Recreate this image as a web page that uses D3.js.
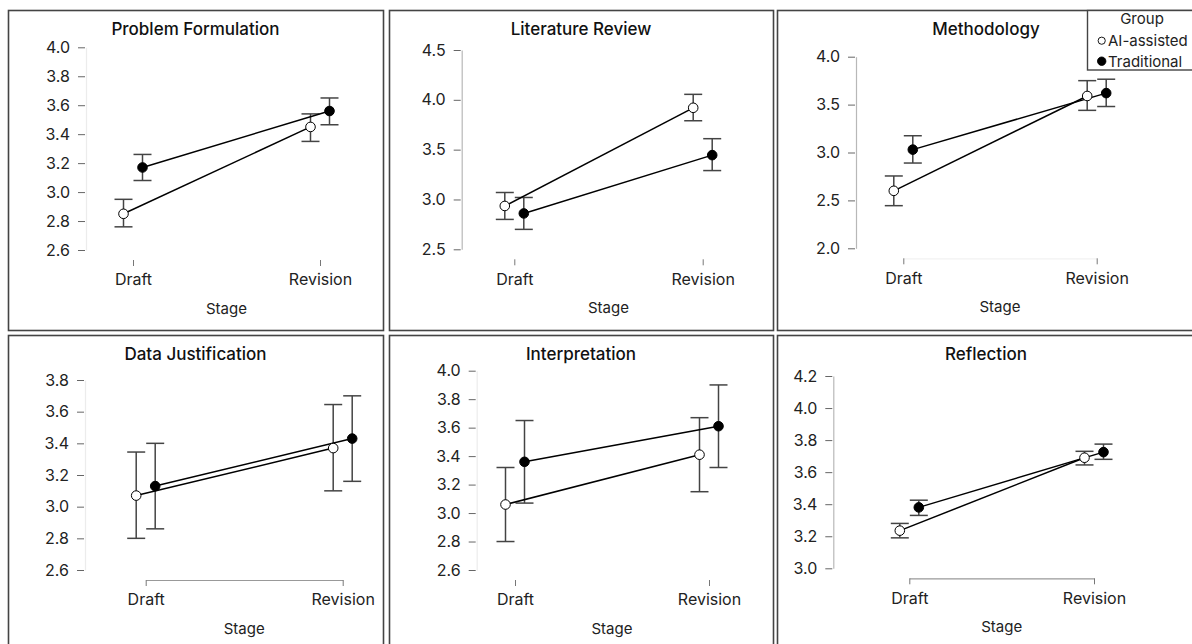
<!DOCTYPE html>
<html>
<head>
<meta charset="utf-8">
<script src="https://cdn.jsdelivr.net/npm/d3@7"></script>
<style>
  body { margin: 0; background: #fff; }
  svg { display: block; font-family: Inter, "Noto Sans", sans-serif; }
</style>
</head>
<body>
<div id="chart"></div>
<script>
// data
var stages = ["Draft", "Revision"];
var groups = ["AI-assisted", "Traditional"];
var titles = ["Problem Formulation", "Literature Review", "Methodology",
              "Data Justification", "Interpretation", "Reflection"];

var aiMean  = [[2.85, 3.45], [2.935, 3.92], [2.60, 3.59], [3.07, 3.37], [3.06, 3.41], [3.235, 3.69]];
var aiLow   = [[2.76, 3.35], [2.80, 3.79],  [2.445, 3.44], [2.80, 3.10], [2.80, 3.15], [3.19, 3.645]];
var aiHigh  = [[2.95, 3.54], [3.07, 4.055], [2.755, 3.75], [3.345, 3.645], [3.32, 3.67], [3.28, 3.73]];

var trMean  = [[3.17, 3.56], [2.86, 3.445], [3.03, 3.62], [3.13, 3.43], [3.36, 3.61], [3.38, 3.725]];
var trLow   = [[3.08, 3.465], [2.70, 3.29], [2.89, 3.48], [2.86, 3.16], [3.07, 3.32], [3.33, 3.68]];
var trHigh  = [[3.26, 3.65], [3.02, 3.61], [3.175, 3.765], [3.40, 3.70], [3.65, 3.90], [3.425, 3.775]];

var yTicks = [
  [2.6, 2.8, 3.0, 3.2, 3.4, 3.6, 3.8, 4.0],
  [2.5, 3.0, 3.5, 4.0, 4.5],
  [2.0, 2.5, 3.0, 3.5, 4.0],
  [2.6, 2.8, 3.0, 3.2, 3.4, 3.6, 3.8],
  [2.6, 2.8, 3.0, 3.2, 3.4, 3.6, 3.8, 4.0],
  [3.0, 3.2, 3.4, 3.6, 3.8, 4.0, 4.2]
];

// layout of each panel (pixels)
var layout = [
  {x: 8,   y: 10,  w: 375, ax: 86,    top: 47.3,  bot: 250,   x0: 133,   x1: 320,   yLine: "#ececec", xLine: "none"},
  {x: 389, y: 10,  w: 384, ax: 461.7, top: 50,    bot: 249.3, x0: 514.3, x1: 702.7, yLine: "#b8b8b8", xLine: "none"},
  {x: 777, y: 10,  w: 418, ax: 856,   top: 56.7,  bot: 248.3, x0: 903.3, x1: 1096.7, yLine: "#b8b8b8", xLine: "#f2f2f2"},
  {x: 8,   y: 335, w: 375, ax: 85,    top: 380,   bot: 570,   x0: 145.7, x1: 342.7, yLine: "#ececec", xLine: "#999"},
  {x: 389, y: 335, w: 384, ax: 476.7, top: 370.7, bot: 570,   x0: 515,   x1: 709,   yLine: "#ececec", xLine: "none"},
  {x: 777, y: 335, w: 418, ax: 833.3, top: 376,   bot: 568.3, x0: 909.3, x1: 1094,  yLine: "#b8b8b8", xLine: "#999"}
];

var width = 1192, height = 644;

var svg = d3.select("#chart")
  .append("svg")
  .attr("width", width)
  .attr("height", height);

var dodge = d3.scalePoint().domain(groups).range([-9.5, 9.5]);

titles.forEach(function(title, i) {
  var L = layout[i];
  var g = svg.append("g").attr("class", "panel");

  // panel frame
  g.append("rect")
    .attr("x", L.x + 0.5)
    .attr("y", L.y + 0.5)
    .attr("width", L.w)
    .attr("height", 320)
    .attr("fill", "none")
    .attr("stroke", "#444")
    .attr("stroke-width", 1.6);

  g.append("text")
    .attr("x", L.x + L.w / 2)
    .attr("y", L.y + 25)
    .attr("text-anchor", "middle")
    .style("font-size", "17px")
    .style("font-weight", 500)
    .style("fill", "#111")
    .text(title);

  var ticks = yTicks[i];
  var yScale = d3.scaleLinear()
    .domain([ticks[0], ticks[ticks.length - 1]])
    .range([L.bot, L.top]);

  var xScale = d3.scalePoint()
    .domain(stages)
    .range([L.x0, L.x1]);

  // Y axis
  var yAxis = d3.axisLeft(yScale)
    .tickValues(ticks)
    .tickFormat(d3.format(".1f"))
    .tickSize(8)
    .tickSizeOuter(0)
    .tickPadding(8);

  var ya = g.append("g")
    .attr("transform", `translate(${L.ax},0)`)
    .call(yAxis);
  ya.select(".domain").attr("stroke", L.yLine).attr("stroke-width", 1.2);
  ya.selectAll(".tick line")
    .attr("stroke", "#666")
    .attr("x2", -8)
    .attr("x1", -1);
  ya.selectAll(".tick text")
    .style("font-size", "16px")
    .style("fill", "#222")
    .style("font-family", "Inter, sans-serif");

  // X axis
  var xAxisY = L.bot + 10;
  var xAxis = d3.axisBottom(xScale)
    .tickSize(6)
    .tickSizeOuter(0)
    .tickPadding(8);

  var xa = g.append("g")
    .attr("transform", `translate(0,${xAxisY})`)
    .call(xAxis);
  xa.select(".domain").attr("stroke", L.xLine).attr("stroke-width", 1.2);
  xa.selectAll(".tick line").attr("stroke", "#777");
  xa.selectAll(".tick text")
    .style("font-size", "16px")
    .style("fill", "#222")
    .style("font-family", "Inter, sans-serif");

  g.append("text")
    .attr("x", (L.x0 + L.x1) / 2)
    .attr("y", xAxisY + 54)
    .attr("text-anchor", "middle")
    .style("font-size", "15px")
    .style("fill", "#222")
    .text("Stage");

  var series = [
    {group: "AI-assisted", mean: aiMean[i], low: aiLow[i], high: aiHigh[i], fill: "#fff"},
    {group: "Traditional", mean: trMean[i], low: trLow[i], high: trHigh[i], fill: "#000"}
  ];

  var px = function(s, j) { return xScale(stages[j]) + dodge(s.group); };

  // error bars
  series.forEach(function(s) {
    var eb = g.append("g").attr("class", "errorbars");
    stages.forEach(function(st, j) {
      var cx = px(s, j);
      eb.append("line")
        .attr("x1", cx).attr("x2", cx)
        .attr("y1", yScale(s.low[j])).attr("y2", yScale(s.high[j]))
        .attr("stroke", "#444").attr("stroke-width", 1.5);
      [s.low[j], s.high[j]].forEach(function(v) {
        eb.append("line")
          .attr("x1", cx - 9).attr("x2", cx + 9)
          .attr("y1", yScale(v)).attr("y2", yScale(v))
          .attr("stroke", "#444").attr("stroke-width", 1.5);
      });
    });
  });

  // lines
  var line = d3.line()
    .x(function(d) { return d.x; })
    .y(function(d) { return yScale(d.v); });

  series.forEach(function(s) {
    var pts = stages.map(function(st, j) { return {x: px(s, j), v: s.mean[j]}; });
    g.append("path")
      .attr("d", line(pts))
      .attr("fill", "none")
      .attr("stroke", "#000")
      .attr("stroke-width", 1.5);
  });

  // points
  series.forEach(function(s) {
    g.selectAll(null)
      .data(s.mean)
      .enter()
      .append("circle")
      .attr("cx", function(d, j) { return px(s, j); })
      .attr("cy", function(d) { return yScale(d); })
      .attr("r", 4.8)
      .attr("fill", s.fill)
      .attr("stroke", "#000")
      .attr("stroke-width", 1);
  });
});

// legend
var lg = svg.append("g").attr("class", "legend");
lg.append("rect")
  .attr("x", 1087.5).attr("y", 10.5)
  .attr("width", 130).attr("height", 59.5)
  .attr("fill", "#fff")
  .attr("stroke", "#444")
  .attr("stroke-width", 1.4);
lg.append("text")
  .attr("x", 1142).attr("y", 24)
  .attr("text-anchor", "middle")
  .style("font-size", "15px")
  .style("fill", "#222")
  .text("Group");
groups.forEach(function(gr, k) {
  var cy = 40.7 + k * 20.5;
  lg.append("circle")
    .attr("cx", 1101.7).attr("cy", cy)
    .attr("r", k === 0 ? 3.6 : 4.2)
    .attr("fill", k === 0 ? "#fff" : "#000")
    .attr("stroke", "#000").attr("stroke-width", 0.9);
  lg.append("text")
    .attr("x", 1108).attr("y", cy + 5.5)
    .style("font-size", "15px")
    .style("fill", "#222")
    .text(gr);
});
</script>
</body>
</html>
